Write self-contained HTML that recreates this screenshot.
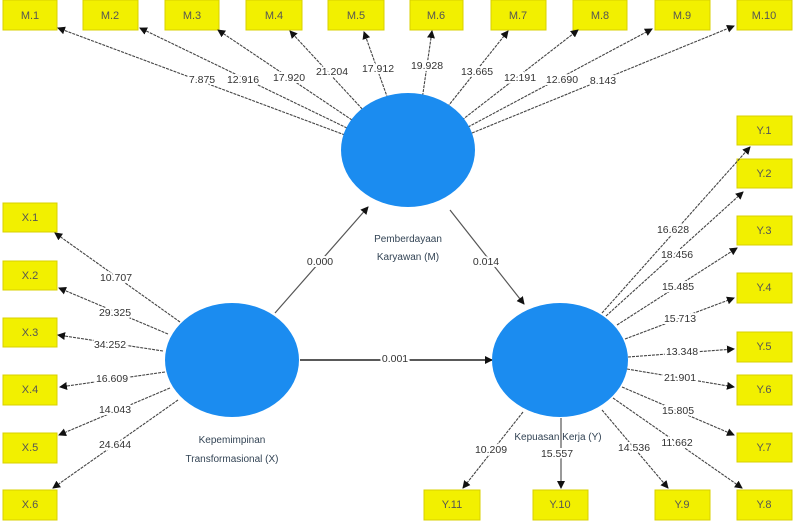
<!DOCTYPE html>
<html><head><meta charset="utf-8"><style>
html,body{margin:0;padding:0;background:#fff;}
svg{display:block;font-family:"Liberation Sans",sans-serif;}
.b{fill:#f2f000;stroke:#d8d000;stroke-width:1}
.bt{font-size:11px;fill:#555;text-anchor:middle;dominant-baseline:middle}
.l{stroke:#444;stroke-width:1.1;stroke-dasharray:3 1;marker-end:url(#a)}
.s{stroke:#555;stroke-width:1.2;marker-end:url(#a)}
.n{font-size:10.5px;fill:#333;text-anchor:middle;dominant-baseline:middle;paint-order:stroke;stroke:#fff;stroke-width:4px}
.c{fill:#1b8cf0}
.cl{font-size:10px;fill:#345;text-anchor:middle}
</style></head><body>
<svg width="795" height="523" viewBox="0 0 795 523">
<defs><marker id="a" markerWidth="8" markerHeight="8" refX="7" refY="4" orient="auto" markerUnits="userSpaceOnUse"><path d="M0,0 L8,4 L0,8 Z" fill="#111"/></marker></defs>

<!-- M boxes -->
<g>
<rect class="b" x="3" y="0" width="54" height="30"/><text class="bt" x="30" y="16">M.1</text>
<rect class="b" x="83" y="0" width="55" height="30"/><text class="bt" x="110" y="16">M.2</text>
<rect class="b" x="165" y="0" width="54" height="30"/><text class="bt" x="192" y="16">M.3</text>
<rect class="b" x="246" y="0" width="56" height="30"/><text class="bt" x="274" y="16">M.4</text>
<rect class="b" x="328" y="0" width="56" height="30"/><text class="bt" x="356" y="16">M.5</text>
<rect class="b" x="410" y="0" width="53" height="30"/><text class="bt" x="436" y="16">M.6</text>
<rect class="b" x="491" y="0" width="55" height="30"/><text class="bt" x="518" y="16">M.7</text>
<rect class="b" x="573" y="0" width="54" height="30"/><text class="bt" x="600" y="16">M.8</text>
<rect class="b" x="655" y="0" width="55" height="30"/><text class="bt" x="682" y="16">M.9</text>
<rect class="b" x="737" y="0" width="55" height="30"/><text class="bt" x="764" y="16">M.10</text>
</g>
<!-- X boxes -->
<rect class="b" x="3" y="203" width="54" height="29"/><text class="bt" x="30" y="218">X.1</text>
<rect class="b" x="3" y="261" width="54" height="29"/><text class="bt" x="30" y="276">X.2</text>
<rect class="b" x="3" y="318" width="54" height="29"/><text class="bt" x="30" y="333">X.3</text>
<rect class="b" x="3" y="375" width="54" height="30"/><text class="bt" x="30" y="390">X.4</text>
<rect class="b" x="3" y="433" width="54" height="30"/><text class="bt" x="30" y="448">X.5</text>
<rect class="b" x="3" y="490" width="54" height="30"/><text class="bt" x="30" y="505">X.6</text>
<!-- Y boxes -->
<rect class="b" x="737" y="116" width="55" height="29"/><text class="bt" x="764" y="131">Y.1</text>
<rect class="b" x="737" y="159" width="55" height="29"/><text class="bt" x="764" y="174">Y.2</text>
<rect class="b" x="737" y="216" width="55" height="29"/><text class="bt" x="764" y="231">Y.3</text>
<rect class="b" x="737" y="273" width="55" height="30"/><text class="bt" x="764" y="288">Y.4</text>
<rect class="b" x="737" y="332" width="55" height="30"/><text class="bt" x="764" y="347">Y.5</text>
<rect class="b" x="737" y="375" width="55" height="30"/><text class="bt" x="764" y="390">Y.6</text>
<rect class="b" x="737" y="433" width="55" height="29"/><text class="bt" x="764" y="448">Y.7</text>
<rect class="b" x="737" y="490" width="55" height="30"/><text class="bt" x="764" y="505">Y.8</text>
<rect class="b" x="655" y="490" width="55" height="30"/><text class="bt" x="682" y="505">Y.9</text>
<rect class="b" x="533" y="490" width="55" height="30"/><text class="bt" x="560" y="505">Y.10</text>
<rect class="b" x="424" y="490" width="56" height="30"/><text class="bt" x="452" y="505">Y.11</text>

<!-- M lines -->
<line class="l" x1="345" y1="135" x2="58" y2="28"/>
<line class="l" x1="347" y1="128" x2="140" y2="28"/>
<line class="l" x1="352" y1="120" x2="218" y2="30"/>
<line class="l" x1="365" y1="112" x2="290" y2="31"/>
<line class="l" x1="389" y1="102" x2="364" y2="32"/>
<line class="l" x1="422" y1="100" x2="432" y2="31"/>
<line class="l" x1="445" y1="110" x2="508" y2="31"/>
<line class="l" x1="462" y1="120" x2="578" y2="30"/>
<line class="l" x1="468" y1="127" x2="652" y2="29"/>
<line class="l" x1="472" y1="133" x2="734" y2="26"/>
<!-- X lines -->
<line class="l" x1="180" y1="322" x2="55" y2="233"/>
<line class="l" x1="168" y1="334" x2="59" y2="288"/>
<line class="l" x1="163" y1="351" x2="58" y2="335"/>
<line class="l" x1="165" y1="372" x2="60" y2="387"/>
<line class="l" x1="170" y1="388" x2="59" y2="435"/>
<line class="l" x1="178" y1="400" x2="53" y2="488"/>
<!-- Y lines -->
<line class="l" x1="602" y1="313" x2="750" y2="147"/>
<line class="l" x1="606" y1="316" x2="743" y2="192"/>
<line class="l" x1="617" y1="325" x2="737" y2="248"/>
<line class="l" x1="625" y1="339" x2="734" y2="298"/>
<line class="l" x1="628" y1="357" x2="734" y2="349"/>
<line class="l" x1="627" y1="369" x2="734" y2="387"/>
<line class="l" x1="622" y1="387" x2="734" y2="435"/>
<line class="l" x1="613" y1="398" x2="742" y2="488"/>
<line class="l" x1="602" y1="410" x2="668" y2="488"/>
<line class="s" x1="561" y1="418" x2="561" y2="488"/>
<line class="l" x1="523" y1="412" x2="463" y2="488"/>
<!-- structural -->
<line class="s" x1="275" y1="313" x2="368" y2="207"/>
<line class="s" x1="450" y1="210" x2="524" y2="304"/>
<line class="s" x1="300" y1="360" x2="492" y2="360" style="stroke:#222;stroke-width:1.6"/>

<!-- circles -->
<ellipse class="c" cx="408" cy="150" rx="67" ry="57"/>
<ellipse class="c" cx="232" cy="360" rx="67" ry="57"/>
<ellipse class="c" cx="560" cy="360" rx="68" ry="57"/>

<text class="cl" x="408" y="242">Pemberdayaan</text>
<text class="cl" x="408" y="260">Karyawan (M)</text>
<text class="cl" x="232" y="443">Kepemimpinan</text>
<text class="cl" x="232" y="462">Transformasional (X)</text>
<text class="cl" x="558" y="440">Kepuasan Kerja (Y)</text>

<!-- numbers -->
<text class="n" x="202" y="80">7.875</text>
<text class="n" x="243" y="80">12.916</text>
<text class="n" x="289" y="78">17.920</text>
<text class="n" x="332" y="72">21.204</text>
<text class="n" x="378" y="69">17.912</text>
<text class="n" x="427" y="66">19.928</text>
<text class="n" x="477" y="72">13.665</text>
<text class="n" x="520" y="78">12.191</text>
<text class="n" x="562" y="80">12.690</text>
<text class="n" x="603" y="81">8.143</text>

<text class="n" x="116" y="278">10.707</text>
<text class="n" x="115" y="313">29.325</text>
<text class="n" x="110" y="345">34.252</text>
<text class="n" x="112" y="379">16.609</text>
<text class="n" x="115" y="410">14.043</text>
<text class="n" x="115" y="445">24.644</text>

<text class="n" x="673" y="230">16.628</text>
<text class="n" x="677" y="255">18.456</text>
<text class="n" x="678" y="287">15.485</text>
<text class="n" x="680" y="319">15.713</text>
<text class="n" x="682" y="352">13.348</text>
<text class="n" x="680" y="378">21.901</text>
<text class="n" x="678" y="411">15.805</text>
<text class="n" x="677" y="443">11.662</text>
<text class="n" x="634" y="448">14.536</text>
<text class="n" x="557" y="454">15.557</text>
<text class="n" x="491" y="450">10.209</text>

<text class="n" x="320" y="262">0.000</text>
<text class="n" x="486" y="262">0.014</text>
<text class="n" x="395" y="359">0.001</text>
</svg>
</body></html>
